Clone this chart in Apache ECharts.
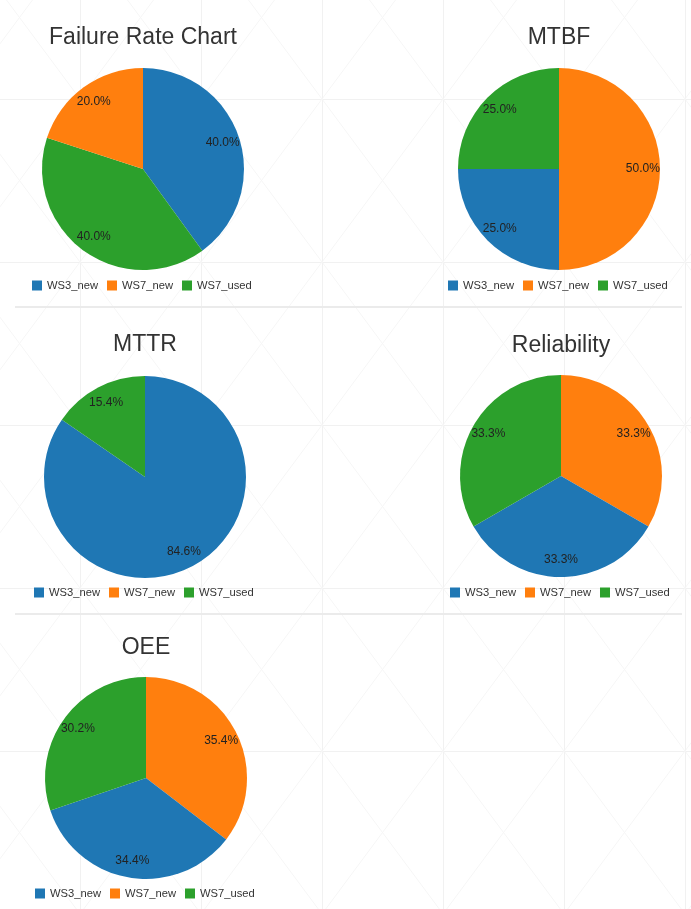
<!DOCTYPE html>
<html>
<head>
<meta charset="utf-8">
<title>Station KPI pies</title>
<script src="https://cdn.jsdelivr.net/npm/echarts@6/dist/echarts.min.js"></script>
<style>
  html, body { margin: 0; padding: 0; background: #fff; }
  #wrap {
    position: relative;
    width: 691px;
    height: 909px;
    background-image: url("data:image/svg+xml;utf8,<svg xmlns='http://www.w3.org/2000/svg' width='121' height='163'><path d='M0.5 0V163M0 0.5H121' stroke='%23f1f1f1' stroke-width='1' fill='none'/><path d='M0 0L121 163M121 0L0 163' stroke='%23f6f6f6' stroke-width='1' fill='none'/></svg>");
    background-position: 80px 99px;
  }
  #charts { position: absolute; left: 0; top: 0; width: 691px; height: 909px; }
  .sep { position: absolute; left: 15px; width: 667px; height: 2px; background: #ebebeb; }
</style>
</head>
<body>
<div id="wrap">
  <div class="sep" style="top: 306px"></div>
  <div class="sep" style="top: 613px"></div>
  <div id="charts"></div>
</div>
<script>
const names = ['WS3_new', 'WS7_new', 'WS7_used'];
const colors = ['#1f77b4', '#ff7f0e', '#2ca02c'];
const titles = ['Failure Rate Chart', 'MTBF', 'MTTR', 'Reliability', 'OEE'];

// values per station, in legend order
const failureRate = [2, 1, 2];
const mtbf = [1, 2, 1];
const mttr = [11, 0, 2];
const reliability = [1, 1, 1];
const oee = [34.4, 35.4, 30.2];
const allValues = [failureRate, mtbf, mttr, reliability, oee];

// slice order clockwise from 12 o'clock (indexes into names)
const sliceOrder = [[0, 2, 1], [1, 0, 2], [0, 2, 1], [1, 0, 2], [1, 0, 2]];

// panel layout
const panels = [
  { cx: 143, cy: 169, titleY: 38, legendY: 287 },
  { cx: 559, cy: 169, titleY: 38, legendY: 287 },
  { cx: 145, cy: 477, titleY: 345, legendY: 594 },
  { cx: 561, cy: 476, titleY: 346, legendY: 594 },
  { cx: 146, cy: 778, titleY: 648, legendY: 895 }
];
const R = 101;
const font = '"Liberation Sans", Arial, sans-serif';

let pies = [];
let labelPies = [];
panels.forEach((p, i) => {
  const vals = allValues[i];
  const data = sliceOrder[i].map(k => ({
    name: names[k],
    value: vals[k],
    itemStyle: { color: colors[k] }
  }));
  pies.push({
    type: 'pie',
    center: [p.cx, p.cy],
    radius: [0, R],
    startAngle: 90,
    clockwise: true,
    label: { show: false },
    labelLine: { show: false },
    emphasis: { scale: false },
    data: data
  });
  // transparent ring only to put the % labels at ~0.8 r
  labelPies.push({
    type: 'pie',
    center: [p.cx, p.cy],
    radius: [R * 0.6, R],
    startAngle: 90,
    clockwise: true,
    silent: true,
    itemStyle: { color: 'transparent' },
    label: {
      show: true,
      position: 'inside',
      color: '#222',
      fontSize: 12,
      fontFamily: font,
      formatter: (prm) => prm.value ? prm.percent.toFixed(1) + '%' : ''
    },
    labelLine: { show: false },
    data: data.map(d => ({ name: d.name, value: d.value }))
  });
});

const chart = echarts.init(document.getElementById('charts'));
chart.setOption({
  animation: false,
  title: panels.map((p, i) => ({
    text: titles[i],
    left: p.cx - 5,
    top: p.titleY - 12 - 5,
    textAlign: 'center',
    textStyle: { fontSize: 23, fontWeight: 'normal', color: '#333', fontFamily: font }
  })),
  legend: panels.map(p => ({
    data: names,
    left: p.cx - 111 - 5,
    top: p.legendY - 7 - 5,
    width: 240,
    icon: 'rect',
    itemWidth: 10,
    itemHeight: 10,
    itemGap: 9,
    textStyle: { fontSize: 11.2, color: '#333', fontFamily: font }
  })),
  series: pies.concat(labelPies)
});
</script>
</body>
</html>
